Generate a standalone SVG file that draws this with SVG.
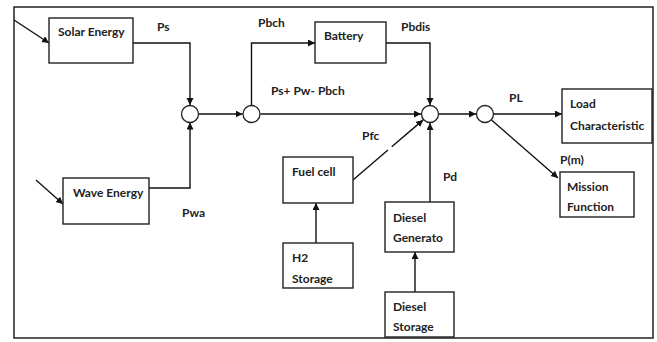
<svg xmlns="http://www.w3.org/2000/svg" width="657" height="342" viewBox="0 0 657 342">
<defs>
<marker id="ah" markerUnits="userSpaceOnUse" markerWidth="8" markerHeight="8" refX="7" refY="3.5" orient="auto">
<path d="M0,0 L7,3.5 L0,7 z" fill="#111"/>
</marker>
<style>
.box{fill:#fff;stroke:#222;stroke-width:1.4}
.sum{fill:#fff;stroke:#222;stroke-width:1.3}
.t{font-family:Lato,"Liberation Sans",sans-serif;font-weight:bold;font-size:12px;fill:#222}
.c{fill:none;stroke:#111;stroke-width:1.4;marker-end:url(#ah)}
.frame{fill:#fff;stroke:#222;stroke-width:1.5}
</style>
</defs>
<rect class="frame" x="14" y="7" width="639" height="331"/>

<g id="connectors">
<line class="c" x1="14" y1="20" x2="49" y2="43"/>
<line class="c" x1="36" y1="180" x2="63" y2="204"/>
<polyline class="c" points="133,43 190,43 190,105"/>
<polyline class="c" points="149,188 190,188 190,122.5"/>
<line class="c" x1="199" y1="114" x2="242.5" y2="114"/>
<polyline class="c" points="251.5,105 251.5,43 315,43"/>
<line class="c" x1="260.5" y1="114" x2="421" y2="114"/>
<polyline class="c" points="386,43 430,43 430,105"/>
<line class="c" x1="353" y1="180" x2="423.2" y2="119.9" stroke-dasharray="46,5,200"/>
<line class="c" x1="430" y1="202" x2="430" y2="123"/>
<line class="c" x1="316" y1="243" x2="316" y2="203"/>
<line class="c" x1="415" y1="292" x2="415" y2="252"/>
<line class="c" x1="439" y1="114" x2="476" y2="114"/>
<line class="c" x1="494" y1="114" x2="562" y2="114"/>
<line class="c" x1="491.5" y1="120" x2="558" y2="178"/>
</g>

<g id="labels">
<text class="t" x="157" y="31">Ps</text>
<text class="t" x="258" y="27">Pbch</text>
<text class="t" x="401" y="31">Pbdis</text>
<text class="t" x="271" y="95">Ps+ Pw- Pbch</text>
<text class="t" x="509" y="102">PL</text>
<text class="t" x="362" y="140">Pfc</text>
<text class="t" x="443" y="181">Pd</text>
<text class="t" x="560" y="164">P(m)</text>
<text class="t" x="182" y="217">Pwa</text>
</g>

<g id="sum1"><circle class="sum" cx="190" cy="114" r="8.5"/></g>
<g id="sum2"><circle class="sum" cx="251.5" cy="114" r="8.5"/></g>
<g id="sum3"><circle class="sum" cx="430" cy="114" r="8.5"/></g>
<g id="sum4"><circle class="sum" cx="485" cy="114" r="8.5"/></g>

<g id="solar">
<rect class="box" x="49" y="18" width="84" height="45"/>
<text class="t" x="58" y="36">Solar Energy</text>
</g>
<g id="wave">
<rect class="box" x="63" y="178" width="86" height="46"/>
<text class="t" x="73" y="197">Wave Energy</text>
</g>
<g id="battery">
<rect class="box" x="315" y="22" width="71" height="41"/>
<text class="t" x="324" y="40">Battery</text>
</g>
<g id="fuelcell">
<rect class="box" x="283" y="157" width="70" height="46"/>
<text class="t" x="292" y="176">Fuel cell</text>
</g>
<g id="h2storage">
<rect class="box" x="283" y="243" width="70" height="45"/>
<text class="t" x="292" y="262">H2</text>
<text class="t" x="292" y="283">Storage</text>
</g>
<g id="dieselgen">
<rect class="box" x="385" y="202" width="69" height="50"/>
<text class="t" x="393" y="222">Diesel</text>
<text class="t" x="393" y="242">Generato</text>
</g>
<g id="dieselstorage">
<rect class="box" x="385" y="292" width="69" height="45"/>
<text class="t" x="393" y="311">Diesel</text>
<text class="t" x="393" y="331">Storage</text>
</g>
<g id="load">
<rect class="box" x="562" y="89" width="90" height="54"/>
<text class="t" x="570" y="108">Load</text>
<text class="t" x="570" y="130">Characteristic</text>
</g>
<g id="mission">
<rect class="box" x="560" y="172" width="74" height="45"/>
<text class="t" x="567" y="191">Mission</text>
<text class="t" x="567" y="211">Function</text>
</g>
</svg>
